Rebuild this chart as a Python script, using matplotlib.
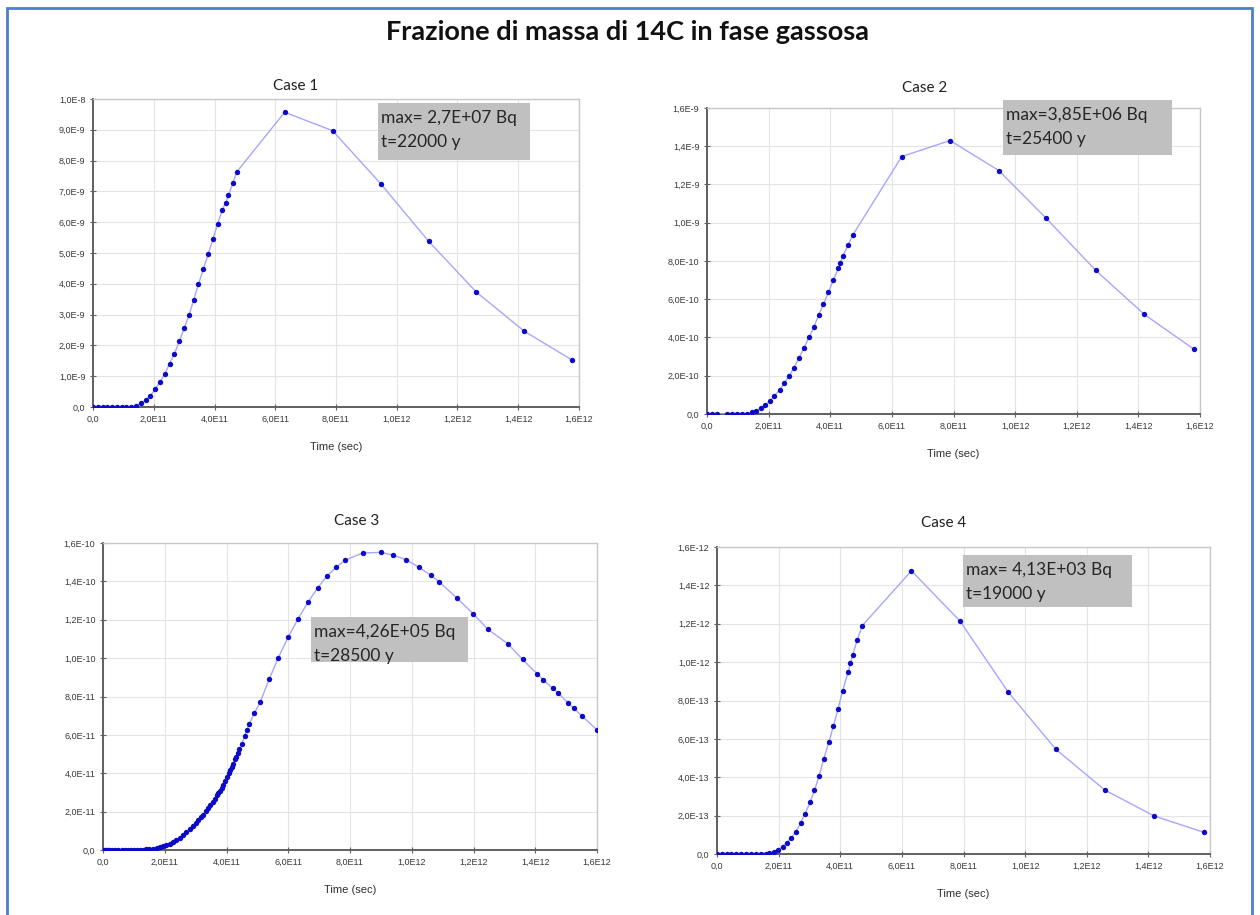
import matplotlib
matplotlib.use('Agg')
import matplotlib.pyplot as plt
from matplotlib.patches import Rectangle

W, H = 1260, 915

# ---- data (x in 1E11 s, y in panel units) ----
x1 = [0.00, 0.16, 0.32, 0.47, 0.63, 0.79, 0.95, 1.10, 1.26, 1.42, 1.58, 1.74, 1.89, 2.05,
      2.21, 2.37, 2.52, 2.68, 2.84, 3.00, 3.16, 3.31, 3.47, 3.63, 3.79, 3.95, 4.10, 4.26,
      4.37, 4.46, 4.60, 4.73, 6.31, 7.89, 9.47, 11.05, 12.62, 14.20, 15.78]
y1 = [0, 0, 0, 0, 0, 0, 0, 0, 0.01, 0.04, 0.12, 0.23, 0.37, 0.58, 0.82, 1.08, 1.41, 1.73,
      2.13, 2.55, 2.98, 3.46, 3.98, 4.47, 4.96, 5.45, 5.94, 6.41, 6.63, 6.87, 7.26, 7.63,
      9.57, 8.97, 7.25, 5.38, 3.73, 2.46, 1.52]  # E-9

x2 = [0.00, 0.16, 0.32, 0.65, 0.81, 0.97, 1.14, 1.30, 1.46, 1.60, 1.75, 1.89, 2.04, 2.19,
      2.36, 2.51, 2.67, 2.82, 2.98, 3.14, 3.31, 3.47, 3.63, 3.78, 3.94, 4.10, 4.26, 4.33,
      4.41, 4.58, 4.74, 6.32, 7.89, 9.47, 11.01, 12.61, 14.19, 15.80]
y2 = [0, 0, 0, 0, 0, 0, 0, 0.01, 0.09, 0.17, 0.30, 0.45, 0.68, 0.96, 1.25, 1.62, 2.00,
      2.42, 2.91, 3.43, 4.00, 4.57, 5.18, 5.75, 6.36, 7.00, 7.61, 7.90, 8.25, 8.83, 9.38,
      13.46, 14.30, 12.73, 10.23, 7.52, 5.21, 3.39]  # E-10

x3 = [0.00, 0.05, 0.10, 0.15, 0.20, 0.30, 0.40, 0.50, 0.60, 0.70, 0.80, 0.90, 1.00, 1.10,
      1.20, 1.30, 1.40, 1.50, 1.62, 1.74, 1.84, 1.95, 2.05, 2.16, 2.27, 2.38, 2.49, 2.60,
      2.70, 2.81, 2.92, 3.00, 3.08, 3.16, 3.24, 3.32, 3.41, 3.48, 3.55, 3.62, 3.68, 3.74,
      3.78, 3.84, 3.89, 3.95, 4.02, 4.08, 4.12, 4.18, 4.22, 4.28, 4.31, 4.37, 4.42, 4.50,
      4.59, 4.66, 4.74, 4.90, 5.09, 5.38, 5.68, 6.00, 6.32, 6.64, 6.95, 7.24, 7.56, 7.85,
      8.41, 8.99, 9.40, 9.81, 10.22, 10.63, 10.89, 11.45, 11.99, 12.46, 13.11, 13.59, 14.06,
      14.26, 14.56, 14.75, 15.07, 15.24, 15.53, 16.00]
y3 = [0, 0, 0, 0, 0, 0, 0, 0, 0, 0, 0, 0, 0, 0.01,
      0.01, 0.02, 0.03, 0.04, 0.07, 0.10, 0.14, 0.19, 0.25, 0.33, 0.42, 0.53, 0.65, 0.79,
      0.93, 1.10, 1.27, 1.40, 1.55, 1.70, 1.85, 2.02, 2.20, 2.36, 2.52, 2.68, 2.85, 2.98,
      3.10, 3.25, 3.40, 3.58, 3.80, 4.00, 4.15, 4.35, 4.50, 4.72, 4.85, 5.05, 5.25, 5.55,
      5.95, 6.25, 6.57, 7.13, 7.70, 8.89, 10.03, 11.10, 12.05, 12.92, 13.65, 14.26, 14.75, 15.11,
      15.48, 15.51, 15.37, 15.13, 14.75, 14.31, 13.97, 13.15, 12.31, 11.51, 10.75, 9.93, 9.18,
      8.87, 8.43, 8.17, 7.65, 7.39, 6.96, 6.26]  # E-11

x4 = [0.00, 0.16, 0.32, 0.47, 0.63, 0.79, 0.95, 1.10, 1.26, 1.42, 1.58, 1.70, 1.85, 1.98,
      2.13, 2.26, 2.41, 2.56, 2.71, 2.86, 3.02, 3.16, 3.32, 3.46, 3.63, 3.78, 3.93, 4.08,
      4.25, 4.33, 4.40, 4.55, 4.71, 6.31, 7.88, 9.45, 11.00, 12.59, 14.19, 15.80]
y4 = [0, 0, 0, 0, 0, 0, 0, 0, 0, 0, 0.01, 0.04, 0.10, 0.21, 0.38, 0.59, 0.83, 1.17, 1.59,
      2.11, 2.69, 3.31, 4.09, 4.93, 5.82, 6.68, 7.57, 8.52, 9.46, 9.93, 10.36, 11.15, 11.89,
      14.76, 12.15, 8.44, 5.45, 3.33, 1.98, 1.13]  # E-13

scales = [1e-9, 1e-10, 1e-11, 1e-13]
titles = ['Case 1', 'Case 2', 'Case 3', 'Case 4']
notes = [('max= 2,7E+07 Bq', 't=22000 y'),
         ('max=3,85E+06 Bq', 't=25400 y'),
         ('max=4,26E+05 Bq', 't=28500 y'),
         ('max= 4,13E+03 Bq', 't=19000 y')]

xticks = [0, 2e11, 4e11, 6e11, 8e11, 1e12, 1.2e12, 1.4e12, 1.6e12]
xtick_labels = ['0,0', '2,0E11', '4,0E11', '6,0E11', '8,0E11', '1,0E12', '1,2E12', '1,4E12', '1,6E12']

yticks1 = [i * 1e-9 for i in range(11)]
ylabels1 = ['0,0', '1,0E-9', '2,0E-9', '3,0E-9', '4,0E-9', '5,0E-9', '6,0E-9', '7,0E-9',
            '8,0E-9', '9,0E-9', '1,0E-8']
yticks2 = [i * 2e-10 for i in range(9)]
ylabels2 = ['0,0', '2,0E-10', '4,0E-10', '6,0E-10', '8,0E-10', '1,0E-9', '1,2E-9', '1,4E-9', '1,6E-9']
yticks3 = [i * 2e-11 for i in range(9)]
ylabels3 = ['0,0', '2,0E-11', '4,0E-11', '6,0E-11', '8,0E-11', '1,0E-10', '1,2E-10', '1,4E-10', '1,6E-10']
yticks4 = [i * 2e-13 for i in range(9)]
ylabels4 = ['0,0', '2,0E-13', '4,0E-13', '6,0E-13', '8,0E-13', '1,0E-12', '1,2E-12', '1,4E-12', '1,6E-12']

# ---- layout (pixels: left, top, right, bottom) ----
boxes = [(93, 99, 579, 407), (707, 108, 1200, 414), (103, 543, 597, 850), (717, 547, 1210, 854)]
title_pos = [(296, 86), (925, 88), (357, 521), (944, 523)]
note_boxes = [(378, 103, 530, 160), (1003, 100, 1172, 155), (311, 617, 468, 662), (963, 555, 1132, 607)]


def fx(px):
    return px / W


def fy(py):
    return 1 - py / H


def drawPanel(fig, k, xs, ys, yt, yl):
    l, t, r, b = boxes[k]
    ax = fig.add_axes([fx(l), fy(b), fx(r) - fx(l), fy(t) - fy(b)])
    xv = [v * 1e11 for v in xs]
    yv = [v * scales[k] for v in ys]
    ax.plot(xv, yv, color='#a6a6ff', lw=1.0, zorder=3)
    ax.scatter(xv, yv, s=15, color='#0a0ac8', zorder=4, linewidths=0)
    ax.set_xlim(0, 1.6e12)
    ax.set_ylim(0, yt[-1])
    ax.set_xticks(xticks)
    ax.set_xticklabels(xtick_labels)
    ax.set_yticks(yt)
    ax.set_yticklabels(yl)
    ax.grid(True, color='#e4e4e4', lw=0.8)
    ax.set_axisbelow(True)
    for s in ['top', 'right']:
        ax.spines[s].set_color('#c8c8c8')
        ax.spines[s].set_linewidth(1.0)
    for s in ['left', 'bottom']:
        ax.spines[s].set_color('#606060')
        ax.spines[s].set_linewidth(1.4)
    ax.tick_params(direction='inout', length=4, width=0.8, color='#606060',
                   labelsize=6.5, labelcolor='#383838', pad=3.5)
    for lab in ax.get_xticklabels() + ax.get_yticklabels():
        lab.set_family('Liberation Sans')
    ax.set_xlabel('Time (sec)', fontsize=8, family='Liberation Sans', color='#303030', labelpad=13)

    tx, ty = title_pos[k]
    fig.text(fx(tx), fy(ty), titles[k], ha='center', va='center', fontsize=11,
             family='Lato', color='#202020')

    nl, nt, nr, nb = note_boxes[k]
    fig.patches.append(Rectangle((fx(nl), fy(nb)), fx(nr) - fx(nl), fy(nt) - fy(nb),
                                 transform=fig.transFigure, facecolor='#c0c0c0',
                                 edgecolor='none', zorder=5))
    fig.text(fx(nl + 3), fy(nt + 15), notes[k][0], ha='left', va='center', fontsize=12.5,
             family='Lato', color='#262626', zorder=6)
    fig.text(fx(nl + 3), fy(nt + 39), notes[k][1], ha='left', va='center', fontsize=12.5,
             family='Lato', color='#262626', zorder=6)
    return ax


def main():
    fig = plt.figure(figsize=(W / 100, H / 100), dpi=100)
    fig.patch.set_facecolor('white')

    # blue frame
    fig.patches.append(Rectangle((fx(7), -0.05), fx(1252) - fx(7), fy(8) + 0.05,
                                 transform=fig.transFigure, facecolor='none',
                                 edgecolor='#4f7fcb', lw=2.0))

    fig.text(fx(628), fy(32), 'Frazione di massa di 14C in fase gassosa', ha='center',
             va='center', fontsize=19.5, fontweight='bold', family='Lato', color='#111111')

    drawPanel(fig, 0, x1, y1, yticks1, ylabels1)
    drawPanel(fig, 1, x2, y2, yticks2, ylabels2)
    drawPanel(fig, 2, x3, y3, yticks3, ylabels3)
    drawPanel(fig, 3, x4, y4, yticks4, ylabels4)

    fig.savefig('out.png', dpi=100)


if __name__ == '__main__': main()
